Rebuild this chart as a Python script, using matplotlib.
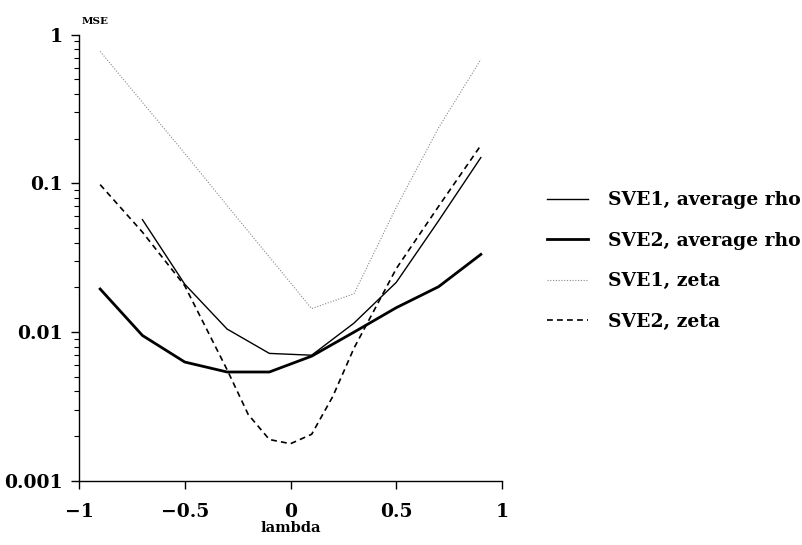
import matplotlib
matplotlib.use("Agg")
import matplotlib.pyplot as plt
from matplotlib.ticker import LogLocator, FixedLocator, NullFormatter, FixedFormatter

# ---- data ----
lam = [-0.9, -0.7, -0.5, -0.3, -0.1, 0.1, 0.3, 0.5, 0.7, 0.9]
sve1_rho_x = [-0.7, -0.5, -0.3, -0.1, 0.1, 0.3, 0.5, 0.7, 0.9]
sve1_rho = [0.057, 0.021, 0.0105, 0.0072, 0.0070, 0.0115, 0.0216, 0.056, 0.149]
sve2_rho = [0.0195, 0.0095, 0.0063, 0.0054, 0.0054, 0.0069, 0.0100, 0.0146, 0.0202, 0.0333]
sve1_zeta = [0.77, 0.35, 0.159, 0.071, 0.032, 0.0144, 0.0181, 0.069, 0.236, 0.68]
sve2_zeta_x = [-0.9, -0.7, -0.5, -0.3, -0.2, -0.1, 0.0, 0.1, 0.2, 0.3, 0.5, 0.7, 0.9]
sve2_zeta = [0.098, 0.047, 0.0205, 0.0056, 0.0028, 0.0019, 0.00178, 0.00206, 0.0037, 0.0078, 0.0267, 0.070, 0.18]

labels = ["SVE1, average rho", "SVE2, average rho", "SVE1, zeta", "SVE2, zeta"]
xticks = [-1, -0.5, 0, 0.5, 1]
xticklabels = ["\u22121", "\u22120.5", "0", "0.5", "1"]
yticks = [0.001, 0.01, 0.1, 1]
yticklabels = ["0.001", "0.01", "0.1", "1"]

FONT = "DejaVu Serif"

fig = plt.figure(figsize=(8.02, 5.45), dpi=100)
ax = fig.add_axes([79/802, 1-481/545, (502-79)/802, (481-34.5)/545])

ax.plot(sve1_rho_x, sve1_rho, color="black", lw=1.0, label=labels[0])
ax.plot(lam, sve2_rho, color="black", lw=2.0, label=labels[1])
ax.plot(lam, sve1_zeta, color="#888888", lw=0.8, linestyle=(0, (1, 1.5)), label=labels[2])
ax.plot(sve2_zeta_x, sve2_zeta, color="black", lw=1.2, linestyle=(0, (3.5, 2.5)), label=labels[3])

ax.set_yscale("log")
ax.set_xlim(-1, 1)
ax.set_ylim(0.001, 1)

for s in ["top", "right"]:
    ax.spines[s].set_visible(False)
ax.spines["left"].set_linewidth(1.0)
ax.spines["bottom"].set_linewidth(1.0)

ax.yaxis.set_major_locator(FixedLocator(yticks))
ax.yaxis.set_major_formatter(FixedFormatter(yticklabels))
ax.yaxis.set_minor_locator(LogLocator(base=10, subs=range(2, 10)))
ax.yaxis.set_minor_formatter(NullFormatter())
ax.set_xticks(xticks)
ax.set_xticklabels(xticklabels)

ax.tick_params(axis="y", which="major", direction="out", length=6, width=1, pad=6)
ax.tick_params(axis="y", which="minor", direction="out", length=3.5, width=0.8)
ax.tick_params(axis="x", which="major", direction="out", length=6, width=1, pad=10)
for lab in ax.get_xticklabels() + ax.get_yticklabels():
    lab.set_fontfamily(FONT)
    lab.set_fontweight("bold")
    lab.set_fontsize(13.5)

ax.set_xlabel("lambda", fontfamily=FONT, fontweight="bold", fontsize=10.5, labelpad=0)
ax.text(0.005, 1.02, "MSE", transform=ax.transAxes, fontfamily=FONT, fontweight="bold",
        fontsize=7.5, ha="left", va="bottom")

leg = ax.legend(loc="center left", bbox_to_anchor=(530/802, 1-261/545),
                bbox_transform=fig.transFigure, frameon=False,
                prop={"family": FONT, "weight": "bold", "size": 13.5},
                handlelength=2.2, handletextpad=1.05, labelspacing=1.2)

fig.savefig("out.png", dpi=100, facecolor="white")
